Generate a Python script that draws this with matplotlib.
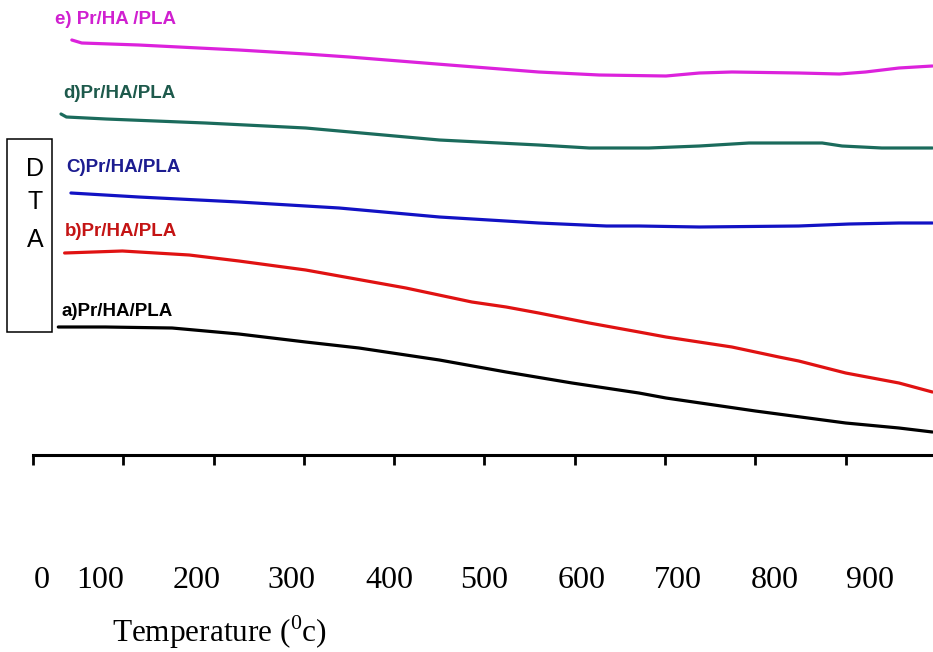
import matplotlib.pyplot as plt
from matplotlib.patches import Rectangle

plt.rcParams['mathtext.fontset'] = 'custom'
plt.rcParams['mathtext.rm'] = 'Liberation Serif'

# DTA traces (temperature in C, signal in arbitrary offset units)
temp_a = [28, 80, 154, 228, 302, 361, 450, 524, 597, 671, 701, 800, 900, 959, 996]
dta_a = [128, 128, 127, 121, 113, 107, 95, 83, 72, 62, 57, 44, 32, 27, 23]

temp_b = [35, 99, 173, 228, 302, 339, 413, 486, 524, 560, 616, 671, 701, 774, 826, 848, 900, 959, 996]
dta_b = [202, 204, 200, 194, 185, 179, 167, 153, 148, 142, 132, 123, 118, 108, 98, 94, 82, 72, 63]

temp_c = [42, 117, 228, 339, 450, 560, 635, 671, 738, 848, 904, 959, 996]
dta_c = [262, 258, 253, 247, 238, 232, 229, 229, 228, 229, 231, 232, 232]

temp_d = [31, 37, 81, 191, 302, 339, 450, 560, 616, 682, 738, 793, 848, 874, 896, 940, 996]
dta_d = [341, 338, 336, 332, 327, 324, 315, 310, 307, 307, 309, 312, 312, 312, 309, 307, 307]

temp_e = [43, 54, 117, 228, 302, 350, 461, 560, 627, 701, 738, 774, 848, 893, 922, 959, 996]
dta_e = [415, 412, 410, 405, 401, 398, 390, 383, 380, 379, 382, 383, 382, 381, 383, 387, 389]

labels = ['a)Pr/HA/PLA', 'b)Pr/HA/PLA', 'C)Pr/HA/PLA', 'd)Pr/HA/PLA', 'e) Pr/HA /PLA']
line_colors = ['black', '#e01212', '#1212c4', '#1b6b5c', '#dc22dc']
text_colors = ['black', '#c41414', '#1c1c90', '#1e5a4c', '#d020d0']
label_pos = [(32, 144), (35, 224), (37, 288), (33, 361), (24, 436)]

tick_values = [0, 100, 200, 300, 400, 500, 600, 700, 800, 900]
tick_labels = [str(v) for v in tick_values]
tick_label_px = [42, 100, 197, 291, 389, 484, 582, 678, 775, 870]

W, H = 933, 652
fig = plt.figure(figsize=(W / 100, H / 100), dpi=100)
ax = fig.add_axes([33 / W, 1 - 455 / H, 1 - 33 / W, 455 / H])

series = [(temp_a, dta_a), (temp_b, dta_b), (temp_c, dta_c), (temp_d, dta_d), (temp_e, dta_e)]
for (t, d), c in zip(series, line_colors):
    ax.plot(t, d, color=c, lw=2.3, solid_joinstyle='round', solid_capstyle='round')

for lab, (x, y), c in zip(labels, label_pos, text_colors):
    ax.text(x, y, lab, color=c, fontsize=13.5, fontweight='bold',
            family='Liberation Sans', ha='left', va='center')

ax.set_xlim(0, 996.7)
ax.set_ylim(0, 455)
for s in ['top', 'left', 'right']:
    ax.spines[s].set_visible(False)
ax.spines['bottom'].set_linewidth(2.2)
ax.set_xticks(tick_values)
ax.set_yticks([])
ax.tick_params(axis='x', direction='out', length=7, width=2, labelbottom=False)

for lab, px in zip(tick_labels, tick_label_px):
    fig.text(px / W, 1 - 580 / H, lab, ha='center', va='center',
             family='Liberation Serif', fontsize=23)
fig.text(219 / W, 1 - 632 / H, 'Temperature ($^{0}$c)', ha='center', va='center',
         family='Liberation Serif', fontsize=22.5)

# DTA box on the left
fig.add_artist(Rectangle((7 / W, 1 - 332 / H), 45 / W, 193 / H, transform=fig.transFigure,
                         fill=False, lw=1.1, ec='black'))
for letter, py in zip(['D', 'T', 'A'], [169, 202, 240]):
    fig.text(35 / W, 1 - py / H, letter, ha='center', va='center',
             family='Liberation Sans', fontsize=18)

fig.savefig('out.png', dpi=100)
